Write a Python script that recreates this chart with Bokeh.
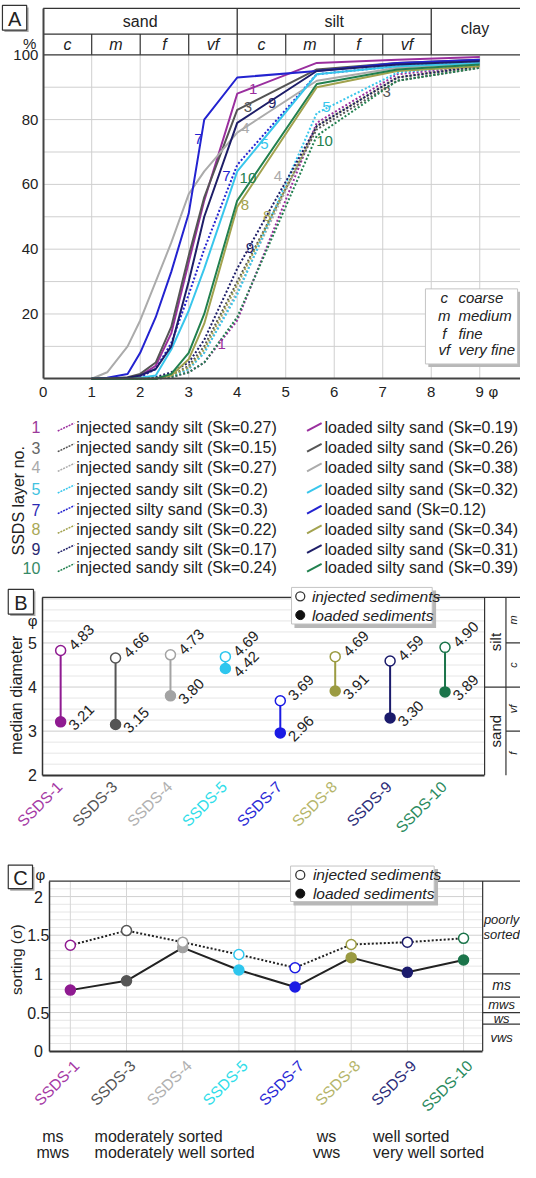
import math
from bokeh.plotting import figure
from bokeh.models import Range1d, FixedTicker
from bokeh.layouts import column
from bokeh.embed import file_html
from bokeh.resources import INLINE
from bokeh.core.properties import value

FONT = "Liberation Sans"
INK = "#222222"
W = 520

# ---------------- data ----------------
layers = ["1", "3", "4", "5", "7", "8", "9", "10"]
categories = ["SSDS-1", "SSDS-3", "SSDS-4", "SSDS-5", "SSDS-7", "SSDS-8", "SSDS-9", "SSDS-10"]

# grain size (phi) of the cumulative curves
phi_grid = [1.0, 1.32, 1.74, 2.0, 2.32, 2.64, 3.0, 3.32, 4.0, 5.64, 7.3, 9.0]

inj_1 = [0, 0, 0, 0, 0, 0.5, 2, 5, 18, 79, 94, 96.5]
inj_3 = [0, 0, 0, 0, 0.3, 1, 4, 10, 30, 77, 92, 96]
inj_4 = [0, 0, 0, 0, 0, 0.8, 3, 8, 27, 78, 93, 96.5]
inj_5 = [0, 0, 0, 0, 0, 0.8, 3, 8, 26, 82, 94.5, 97]
inj_7 = [0, 0, 0, 0.5, 3, 11, 26, 40, 66, 94, 96.5, 97.5]
inj_8 = [0, 0, 0, 0, 0, 1, 3.5, 9, 29, 78, 93, 96.5]
inj_9 = [0, 0, 0, 0, 0.5, 2, 5, 12, 34, 78, 93, 96.5]
inj_10 = [0, 0, 0, 0, 0, 0.5, 2, 5, 19, 75, 92, 96]

load_1 = [0, 0, 0.3, 1, 4, 14, 36, 55, 88, 97.5, 98.5, 99.3]
load_3 = [0, 0, 0.5, 1.5, 5, 16, 38, 56, 83, 95.5, 97.5, 98.5]
load_4 = [0, 2, 10, 18, 30, 42, 57, 64, 76, 92, 96, 97.5]
load_5 = [0, 0, 0, 0.3, 1, 9, 21, 34, 64, 94, 96.5, 97.5]
load_7 = [0, 0.3, 1.5, 8, 19, 33, 51, 80, 93, 95, 97.5, 98.5]
load_8 = [0, 0, 0, 0, 0, 1, 6, 17, 53, 90, 95, 96.5]
load_9 = [0, 0, 0.3, 1, 3, 10, 30, 50, 79, 95, 97, 98]
load_10 = [0, 0, 0, 0, 0, 1.5, 8, 20, 55, 91, 95.5, 97]

injected = [inj_1, inj_3, inj_4, inj_5, inj_7, inj_8, inj_9, inj_10]
loaded = [load_1, load_3, load_4, load_5, load_7, load_8, load_9, load_10]

inj_text = ["injected sandy silt (Sk=0.27)", "injected sandy silt (Sk=0.15)",
            "injected sandy silt (Sk=0.27)", "injected sandy silt (Sk=0.2)",
            "injected silty sand (Sk=0.3)", "injected sandy silt (Sk=0.22)",
            "injected sandy silt (Sk=0.17)", "injected sandy silt (Sk=0.24)"]
load_text = ["loaded silty sand (Sk=0.19)", "loaded silty sand (Sk=0.26)",
             "loaded silty sand (Sk=0.38)", "loaded silty sand (Sk=0.32)",
             "loaded sand (Sk=0.12)", "loaded silty sand (Sk=0.34)",
             "loaded silty sand (Sk=0.31)", "loaded silty sand (Sk=0.39)"]

median_injected = [4.83, 4.66, 4.73, 4.69, 3.69, 4.69, 4.59, 4.90]
median_loaded = [3.21, 3.15, 3.80, 4.42, 2.96, 3.91, 3.30, 3.89]

sorting_injected = [1.37, 1.56, 1.41, 1.25, 1.08, 1.38, 1.41, 1.46]
sorting_loaded = [0.79, 0.91, 1.34, 1.05, 0.83, 1.21, 1.02, 1.18]

grain_ticks = [0, 1, 2, 3, 4, 5, 6, 7, 8, 9]
pct_ticks = [20, 40, 60, 80, 100]
median_ticks = [2, 3, 4, 5]
sorting_ticks = [0, 0.5, 1, 1.5, 2]
sorting_tick_labels = ["0", "0.5", "1", "1.5", "2"]
sorting_classes = [1.0, 0.7, 0.5, 0.35]

line_colors = ["#9a2f9e", "#555555", "#ababab", "#38c6ec", "#2323d0", "#a2a24e", "#1e1e68", "#22804f"]
marker_colors = ["#8f1b91", "#555555", "#a3a3a3", "#2ec6ee", "#1b1be4", "#9b9b42", "#1b1b6c", "#1b744a"]
number_colors = ["#9b3a9b", "#666666", "#aaaaaa", "#40c2e0", "#2a2ab4", "#a8a855", "#2a2a72", "#368a66"]
label_colors = ["#a53aa5", "#555555", "#b0b0b0", "#30dde9", "#2a2ad6", "#b5b56a", "#2c2c78", "#2a8a5e"]


def make_fig(h, xr, yr, axes=True):
    kw = dict(width=W, height=h, x_range=Range1d(*xr), y_range=Range1d(*yr),
              output_backend="svg", toolbar_location=None,
              min_border_left=0, min_border_right=0, min_border_top=0, min_border_bottom=0)
    if not axes:
        kw.update(x_axis_type=None, y_axis_type=None)
    p = figure(**kw)
    p.grid.visible = False
    p.outline_line_color = None
    p.background_fill_color = "white"
    p.border_fill_color = "white"
    return p


def axis_line(ax, loc, bounds, lw=1.5, color="#333333"):
    # the axis draws its rule; tick labels are placed as text
    ax.ticker = FixedTicker(ticks=[])
    ax.fixed_location = loc
    ax.bounds = bounds
    ax.major_tick_line_color = None
    ax.minor_tick_line_color = None
    ax.axis_line_width = lw
    ax.axis_line_color = color


def txt(p, x, y, t, size="16px", color=INK, align="center", baseline="middle", angle=0, style="normal"):
    p.text(x=x, y=y, text=t, text_font=value(FONT), text_font_size=size, text_color=color,
           text_align=align, text_baseline=baseline, angle=angle, text_font_style=style)


def panel_box(p, fx, fy, X0, Y0, X1, Y1, t):
    p.quad(left=fx(X0 + 2), right=fx(X1 + 2), top=fy(Y0 + 2), bottom=fy(Y1 + 2),
           fill_color="#a8a8a8", line_color=None)
    p.quad(left=fx(X0), right=fx(X1), top=fy(Y0), bottom=fy(Y1),
           fill_color="white", line_color="#333333", line_width=1.2)
    txt(p, [fx((X0 + X1) / 2)], [fy((Y0 + Y1) / 2 + 1)], [t], size="20px")


# ================= Panel A =================
def a_phi(X):
    return (X - 44) / 50.0


def a_pct(Y):
    return (383 - Y) / 3.28


A_X1 = a_phi(536)
A_TOP = a_pct(8)
pA = make_fig(399, (a_phi(0), A_X1), (a_pct(404), a_pct(0)))

vg = grain_ticks[1:]
pA.segment(x0=vg, y0=0, x1=vg, y1=100, line_color="#cfcfcf", line_width=1)
hg = [10 * k for k in range(1, 10)]
pA.segment(x0=0, y0=hg, x1=A_X1, y1=hg, line_color="#cfcfcf", line_width=1)

row2 = a_pct(34)
pA.segment(x0=[0, 0, 0], y0=[100, row2, A_TOP], x1=[A_X1, 8, A_X1], y1=[100, row2, A_TOP],
           line_color="#333333", line_width=1.3)
pA.segment(x0=[1, 2, 3, 5, 6, 7], y0=100, x1=[1, 2, 3, 5, 6, 7], y1=row2, line_color="#333333", line_width=1.2)
pA.segment(x0=[4, 8], y0=100, x1=[4, 8], y1=A_TOP, line_color="#333333", line_width=1.3)
txt(pA, [2, 6], [a_pct(21)] * 2, ["sand", "silt"], size="16px")
txt(pA, [8.9], [a_pct(28)], ["clay"], size="16px")
txt(pA, [0.5, 1.5, 2.5, 3.5, 4.5, 5.5, 6.5, 7.5], [a_pct(44.5)] * 8,
    ["c", "m", "f", "vf", "c", "m", "f", "vf"], size="16px", style="italic")

for k in range(8):
    pA.line(phi_grid, injected[k], line_color=line_colors[k], line_width=2, line_dash="2 2")
for k in range(8):
    pA.line(phi_grid, loaded[k], line_color=line_colors[k], line_width=2)

cl_text = ["1", "3", "9", "4", "7", "5", "7", "10", "8", "8", "4", "5", "10", "3", "9", "1"]
cl_idx = [0, 1, 6, 2, 4, 3, 4, 7, 5, 5, 2, 3, 7, 1, 6, 0]
cl_x = [4.33, 4.22, 4.72, 4.17, 3.2, 4.56, 3.78, 4.22, 4.16, 4.62, 4.84, 5.84, 5.8, 7.08, 4.26, 3.68]
cl_y = [89.6, 84.0, 85.0, 77.5, 74.0, 72.5, 62.5, 62.0, 53.7, 50.3, 62.5, 84.0, 73.5, 88.4, 40.5, 10.7]
txt(pA, cl_x, cl_y, cl_text, size="15px", color=[line_colors[i] for i in cl_idx])

pA.quad(left=a_phi(441), right=a_phi(537), top=a_pct(295), bottom=a_pct(371), fill_color="#b8b8b8",
        line_color=None)
pA.quad(left=a_phi(438), right=a_phi(533), top=a_pct(292), bottom=a_pct(368), fill_color="white",
        line_color="#c4c4c4", line_width=1)
rows_k = [a_pct(301), a_pct(319), a_pct(337), a_pct(353)]
txt(pA, [a_phi(457.5)] * 4, rows_k, ["c", "m", "f", "vf"], size="15px", style="italic")
txt(pA, [a_phi(472)] * 4, rows_k, ["coarse", "medium", "fine", "very fine"], size="15px",
    style="italic", align="left")

axis_line(pA.xaxis[0], 0, (0, A_X1), lw=2, color="#444444")
axis_line(pA.yaxis[0], 0, (0, A_TOP), lw=2, color="#444444")
txt(pA, grain_ticks, [a_pct(396)] * len(grain_ticks), [str(v) for v in grain_ticks], size="15px")
txt(pA, [a_phi(39)] * len(pct_ticks), pct_ticks, [str(v) for v in pct_ticks], size="15px", align="right")

panel_box(pA, a_phi, a_pct, 2, 5, 27, 30, "A")
txt(pA, [a_phi(30)], [a_pct(44)], ["%"], size="15px")
txt(pA, [a_phi(508)], [a_pct(396)], ["\u03c6"], size="15px")

# ================= Legend strip =================
pL = make_fig(181, (0, 536), (588, 404), axes=False)
rows_y = [432, 453, 473, 495, 516, 536, 556, 575]
txt(pL, [41] * 8, rows_y, layers, size="16px", color=number_colors, align="right")
pL.segment(x0=59, y0=[y + 4 for y in rows_y], x1=76, y1=[y - 4 for y in rows_y],
           line_color=line_colors, line_width=1.5, line_dash="2 1")
txt(pL, [78] * 8, rows_y, inj_text, size="16px", align="left")
pL.segment(x0=316, y0=[y + 4 for y in rows_y], x1=331, y1=[y - 4 for y in rows_y],
           line_color=line_colors, line_width=2)
txt(pL, [334] * 8, rows_y, load_text, size="16px", align="left")
txt(pL, [19], [507], ["SSDS layer no."], size="16px", angle=math.pi / 2)

# ================= Panel B =================
def b_i(X):
    return (X - 62) / 56.6


def b_phi(Y):
    return 2 + (785 - Y) / 44.6


xs = list(range(8))
B_TOP = b_phi(605)
pB = make_fig(255, (b_i(0), b_i(536)), (b_phi(846), b_phi(588)))

hgB = [2 + 0.25 * k for k in range(1, 17)]
pB.segment(x0=b_i(43), y0=hgB, x1=b_i(499), y1=hgB,
           line_color=["#cdcdcd" if abs(v - round(v)) < 1e-9 else "#e6e6e6" for v in hgB], line_width=1)
pB.segment(x0=b_i(43), y0=B_TOP, x1=b_i(536), y1=B_TOP, line_color="#333333", line_width=1.3)
pB.segment(x0=[b_i(499), b_i(521)], y0=2, x1=[b_i(499), b_i(521)], y1=B_TOP, line_color="#333333",
           line_width=1.2)
pB.segment(x0=[b_i(499), b_i(521), b_i(521)], y0=[4, 5, 3], x1=b_i(536), y1=[4, 5, 3],
           line_color="#333333", line_width=1.2)
txt(pB, [b_i(510)] * 2, [5.02, 3.0], ["silt", "sand"], size="15px", angle=math.pi / 2)
txt(pB, [b_i(528.5)] * 4, [5.52, 4.5, 3.5, 2.5], ["m", "c", "vf", "f"], size="11px",
    angle=math.pi / 2, style="italic")

pB.segment(x0=xs, y0=median_loaded, x1=xs, y1=median_injected, line_color=marker_colors, line_width=2)
pB.scatter(xs, median_loaded, size=10, fill_color=marker_colors, line_color=marker_colors, line_width=1.5)
pB.scatter(xs, median_injected, size=10, fill_color="white", line_color=marker_colors, line_width=1.5)
txt(pB, [x + 0.19 for x in xs], [v + 0.06 for v in median_injected], ["%.2f" % v for v in median_injected],
    size="15px", align="left", angle=math.pi / 4)
txt(pB, [x + 0.19 for x in xs], [v - 0.135 for v in median_loaded], ["%.2f" % v for v in median_loaded],
    size="15px", align="left", angle=math.pi / 4)

pB.quad(left=b_i(303), right=b_i(449), top=b_phi(598), bottom=b_phi(636), fill_color="#b8b8b8", line_color=None)
pB.quad(left=b_i(300), right=b_i(445), top=b_phi(595), bottom=b_phi(632), fill_color="white",
        line_color="#c4c4c4")
pB.scatter([b_i(309)], [b_phi(604)], size=9, fill_color="white", line_color="#333333", line_width=1.3)
pB.scatter([b_i(309)], [b_phi(623)], size=9, fill_color="#111111", line_color="#111111")
txt(pB, [b_i(321)] * 2, [b_phi(604), b_phi(623)], ["injected sediments", "loaded sediments"],
    size="15.5px", align="left", style="italic")

axis_line(pB.xaxis[0], 2, (b_i(43), b_i(499)), lw=2)
axis_line(pB.yaxis[0], b_i(43), (2, B_TOP), lw=1.5)
txt(pB, [b_i(33)] * len(median_ticks), median_ticks, [str(v) for v in median_ticks], size="16px")

txt(pB, [x - 0.02 for x in xs], [b_phi(794)] * 8, categories, size="15.5px", color=label_colors,
    align="right", angle=math.pi / 4)
panel_box(pB, b_i, b_phi, 8, 597, 34, 622, "B")
txt(pB, [b_i(33)], [b_phi(628)], ["\u03c6"], size="15px")
txt(pB, [b_i(17)], [b_phi(704)], ["median diameter"], size="16px", angle=math.pi / 2)

# ================= Panel C =================
def c_i(X):
    return (X - 72) / 57.9


def c_s(Y):
    return (1065 - Y) / 78.5


C_TOP = 2.2
C_TAB = c_i(497)
pC = make_fig(327, (c_i(0), c_i(536)), (c_s(1178), c_s(846)))

hgC = [round(0.1 * k, 1) for k in range(1, 22)]
pC.segment(x0=c_i(50), y0=hgC, x1=C_TAB, y1=hgC,
           line_color=["#d0d0d0" if abs(v * 2 - round(v * 2)) < 1e-9 else "#e6e6e6" for v in hgC], line_width=1)
pC.segment(x0=xs, y0=0, x1=xs, y1=C_TOP, line_color="#d6d6d6", line_width=1)
pC.segment(x0=c_i(50), y0=C_TOP, x1=c_i(536), y1=C_TOP, line_color="#333333", line_width=1.3)
pC.segment(x0=C_TAB, y0=0, x1=C_TAB, y1=C_TOP, line_color="#333333", line_width=1.2)
pC.segment(x0=C_TAB, y0=sorting_classes, x1=c_i(536), y1=sorting_classes, line_color="#333333", line_width=1.2)
txt(pC, [c_i(516.5)] * 2, [c_s(931), c_s(947)], ["poorly", "sorted"], size="13px", style="italic")
txt(pC, [c_i(516.5)] * 4, [0.85, 0.6, 0.425, 0.175], ["ms", "mws", "ws", "vws"],
    size=["14px", "13px", "13px", "13px"], style="italic")

pC.line(xs, sorting_injected, line_color="#222222", line_width=2, line_dash="2 2")
pC.line(xs, sorting_loaded, line_color="#222222", line_width=2)
pC.scatter(xs, sorting_loaded, size=10, fill_color=marker_colors, line_color=marker_colors, line_width=1.5)
pC.scatter(xs, sorting_injected, size=10, fill_color="white", line_color=marker_colors, line_width=1.5)

pC.quad(left=c_i(302), right=c_i(451), top=c_s(880), bottom=c_s(917), fill_color="#b8b8b8", line_color=None)
pC.quad(left=c_i(299), right=c_i(447), top=c_s(877), bottom=c_s(913), fill_color="white",
        line_color="#c4c4c4")
pC.scatter([c_i(309)], [c_s(886)], size=9, fill_color="white", line_color="#333333", line_width=1.3)
pC.scatter([c_i(309)], [c_s(905)], size=9, fill_color="#111111", line_color="#111111")
txt(pC, [c_i(322)] * 2, [c_s(886), c_s(905)], ["injected sediments", "loaded sediments"],
    size="15.5px", align="left", style="italic")

axis_line(pC.xaxis[0], 0, (c_i(50), C_TAB), lw=2)
axis_line(pC.yaxis[0], c_i(50), (0, C_TOP), lw=1.5)
txt(pC, [c_i(39)] * len(sorting_ticks), sorting_ticks, sorting_tick_labels, size="16px")

txt(pC, [x + 0.11 for x in xs], [c_s(1077)] * 8, categories, size="15.5px", color=label_colors,
    align="right", angle=math.pi / 4)
panel_box(pC, c_i, c_s, 8, 876, 33, 900, "C")
txt(pC, [c_i(41)], [c_s(886)], ["\u03c6"], size="15px")
txt(pC, [c_i(17)], [c_s(972)], ["sorting (\u03c3)"], size="15.5px", angle=math.pi / 2)

r1, r2 = c_s(1152), c_s(1168)
txt(pC, [c_i(54)] * 2 + [c_i(336)] * 2, [r1, r2, r1, r2], ["ms", "mws", "ws", "vws"], size="16px")
txt(pC, [c_i(97)] * 2 + [c_i(384)] * 2, [r1, r2, r1, r2],
    ["moderately sorted", "moderately well sorted", "well sorted", "very well sorted"],
    size="16px", align="left")

layout = column(pA, pL, pB, pC, spacing=0)
open("out.html", "w").write(file_html(layout, INLINE))
